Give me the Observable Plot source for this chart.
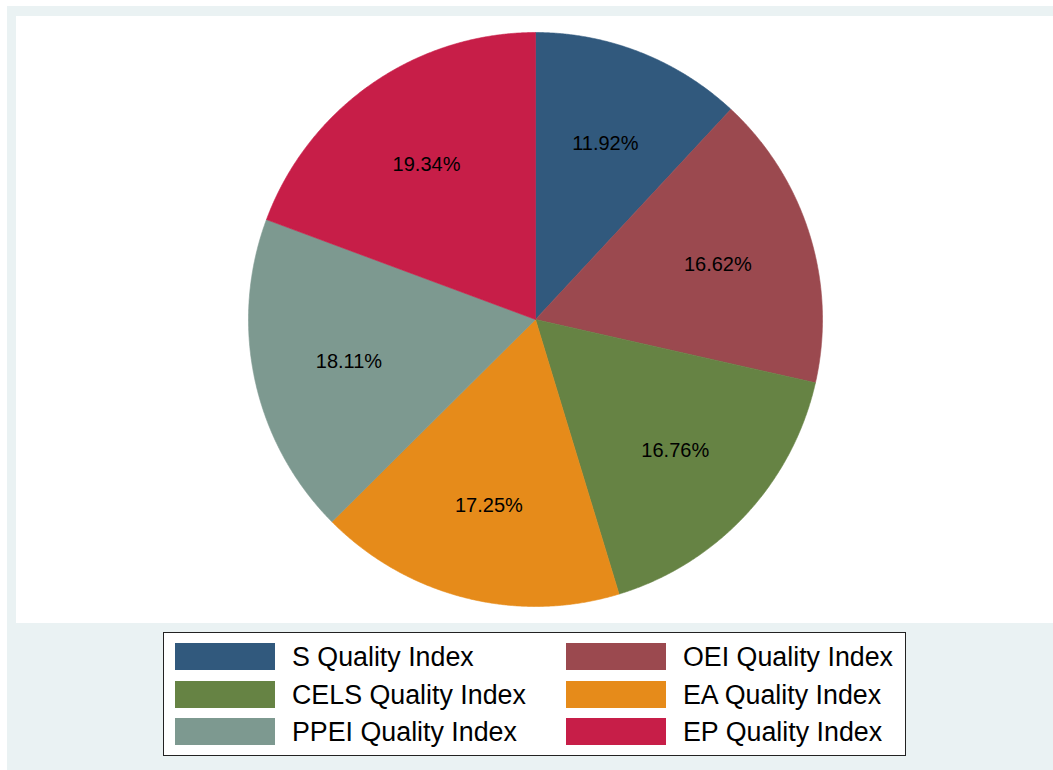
<!DOCTYPE html>
<html>
<head>
<meta charset="utf-8">
<script src="https://cdn.jsdelivr.net/npm/d3@7"></script>
<script src="https://cdn.jsdelivr.net/npm/@observablehq/plot@0.6"></script>
<style>
  html, body { margin: 0; padding: 0; background: #ffffff; }
  #page { position: relative; width: 1053px; height: 770px; overflow: hidden; background: #ffffff; font-family: "Liberation Sans", Arial, Helvetica, sans-serif; }
  #bg { position: absolute; left: 7px; top: 6px; right: 0; bottom: 0; background: #EAF2F3; }
  #plot { position: absolute; left: 16px; top: 16px; width: 1037px; height: 607px; background: #ffffff; }
  #plot svg { display: block; background: #ffffff; }
  #legend { position: absolute; left: 163px; top: 632px; width: 741px; height: 122px; border: 1px solid #222; background: #ffffff; }
  .item { position: absolute; height: 27px; }
  .sw { position: absolute; left: 0; top: 0; width: 100px; height: 27px; }
  .lab { position: absolute; left: 117px; top: -2px; font-size: 26.8px; line-height: 33px; white-space: nowrap; color: #000; }
</style>
</head>
<body>
<div id="page">
  <div id="bg"></div>
  <div id="plot"></div>
  <div id="legend"></div>
</div>
<script>
// ---- data ----
const names = ["S Quality Index", "OEI Quality Index", "CELS Quality Index", "EA Quality Index", "PPEI Quality Index", "EP Quality Index"];
const values = [11.92, 16.62, 16.76, 17.25, 18.11, 19.34];
const percentLabels = ["11.92%", "16.62%", "16.76%", "17.25%", "18.11%", "19.34%"];
const colors = ["#31597D", "#9B494F", "#668344", "#E68B1A", "#7D9990", "#C71E48"];

// ---- build slice outlines (clockwise from 12 o'clock) ----
const total = d3.sum(values);
const rows = [];
const labelRows = [];
let acc = 0;
values.forEach((v, i) => {
  const a0 = acc / total * 2 * Math.PI;
  acc += v;
  const a1 = acc / total * 2 * Math.PI;
  rows.push({name: names[i], x: 0, y: 0});
  const n = Math.max(2, Math.ceil((a1 - a0) / (Math.PI / 720)));
  for (let k = 0; k <= n; k++) {
    const a = a0 + (a1 - a0) * k / n;
    rows.push({name: names[i], x: Math.sin(a), y: Math.cos(a)});
  }
  rows.push({name: names[i], x: 0, y: 0});
  const am = (a0 + a1) / 2;
  labelRows.push({text: percentLabels[i], x: 0.665 * Math.sin(am), y: 0.665 * Math.cos(am)});
});

const cx = 519, cy = 303, R = 287;
const chart = Plot.plot({
  width: 1037,
  height: 607,
  margin: 0,
  style: {background: "#ffffff", overflow: "visible"},
  x: {domain: [-1, 1], range: [cx - R, cx + R], axis: null},
  y: {domain: [-1, 1], range: [cy + R, cy - R], axis: null},
  color: {domain: names, range: colors},
  marks: [
    Plot.line(rows, {x: "x", y: "y", z: "name", fill: "name", stroke: "name", strokeWidth: 0.6, curve: "linear"}),
    Plot.text(labelRows, {x: "x", y: "y", dy: 1.5, text: "text", fontSize: 20, fontFamily: "Liberation Sans, Arial, sans-serif", fill: "#000000"})
  ]
});
document.getElementById("plot").appendChild(chart);

// ---- legend (2 columns, row-major) ----
const legend = document.getElementById("legend");
names.forEach((nm, i) => {
  const col = i % 2, row = Math.floor(i / 2);
  const item = document.createElement("div");
  item.className = "item";
  item.style.left = (col === 0 ? 11 : 402) + "px";
  item.style.top = (10 + row * 37.5) + "px";
  const sw = document.createElement("div");
  sw.className = "sw";
  sw.style.background = colors[i];
  const lab = document.createElement("div");
  lab.className = "lab";
  lab.textContent = nm;
  item.appendChild(sw);
  item.appendChild(lab);
  legend.appendChild(item);
});
</script>
</body>
</html>
